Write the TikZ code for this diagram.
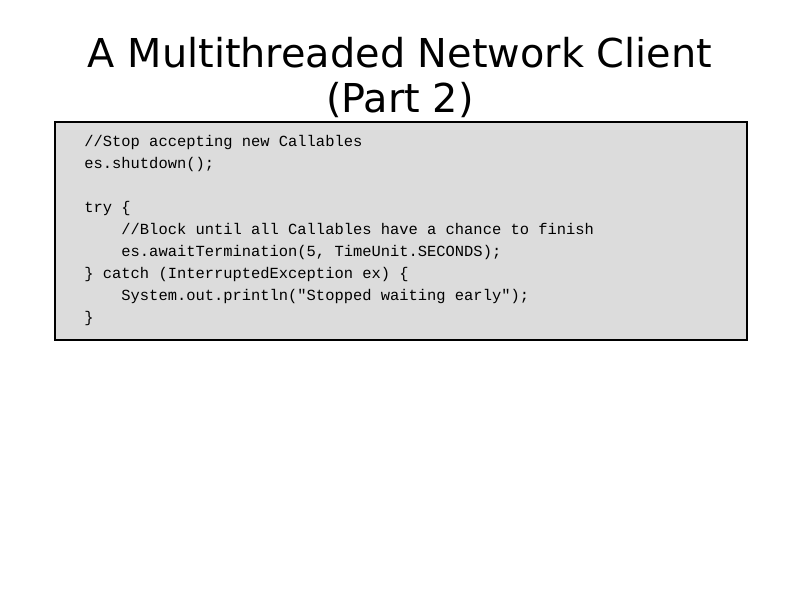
\documentclass[tikz,border=0pt]{standalone}
\usepackage{fontspec}
\newfontfamily\titlefont{DejaVu Sans}
\newfontfamily\codefont{Liberation Mono}
\newcommand\ind{\hspace*{2.4em}}
\definecolor{boxgray}{HTML}{DCDCDC}
\tikzset{
  codeline/.style={anchor=base west, inner sep=0pt, font=\codefont\fontsize{7.72}{11}\selectfont},
  titleline/.style={anchor=base, inner sep=0pt, font=\titlefont\fontsize{19.9}{22.5}\selectfont}
}
\begin{document}
\begin{tikzpicture}[x=0.5pt, y=-0.5pt]
  \useasboundingbox[fill=white](0,0) rectangle (800,600);
  \node[titleline] (title1) at (400,67) {A Multithreaded Network Client};
  \node[titleline] (title2) at (400,112) {(Part 2)};
  \node[draw, line width=1pt, fill=boxgray, minimum width=346pt, minimum height=109pt] (codebox) at (401,231) {};
  \foreach \ln [count=\i] in {{//Stop accepting new Callables},
      {es.shutdown();}, {},
      {try \{},
      {\ind//Block until all Callables have a chance to finish},
      {\ind es.awaitTermination(5, TimeUnit.SECONDS);},
      {\} catch (InterruptedException ex) \{},
      {\ind System.out.println("Stopped waiting early");},
      {\}}}
    \node[codeline] (line\i) at (84,124+22*\i) {\ln};
\end{tikzpicture}
\end{document}
